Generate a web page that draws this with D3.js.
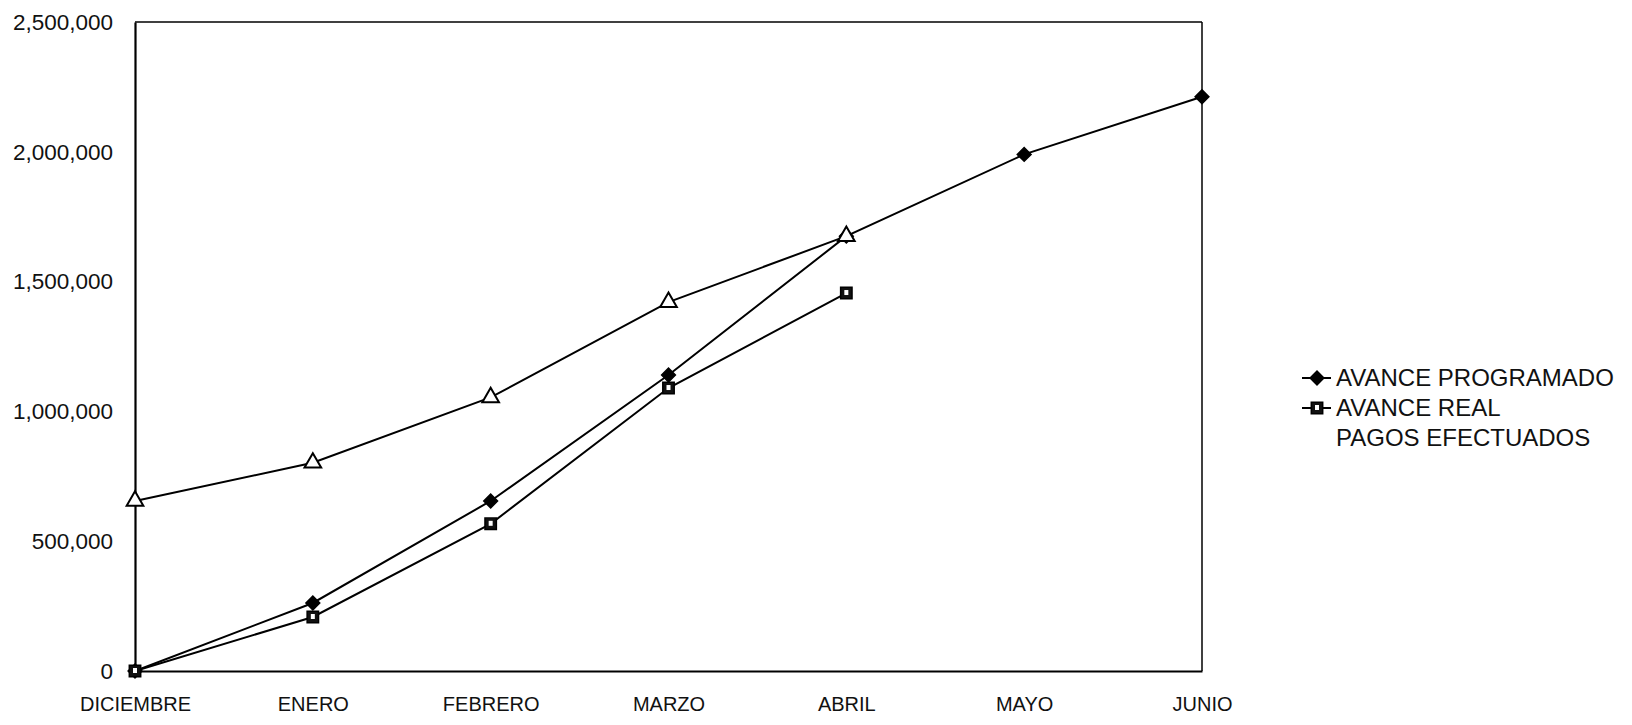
<!DOCTYPE html>
<html>
<head>
<meta charset="utf-8">
<script src="https://cdn.jsdelivr.net/npm/d3@7"></script>
<style>
  body { margin: 0; background: #fff; }
  text { font-family: "Liberation Sans", Arial, sans-serif; fill: #111; }
</style>
</head>
<body>
<svg id="chart" width="1632" height="725"></svg>
<script>
// data
const months = ['DICIEMBRE', 'ENERO', 'FEBRERO', 'MARZO', 'ABRIL', 'MAYO', 'JUNIO']
const programado = [0, 262000, 655000, 1140000, 1675000, 1990000, 2212000]
const real = [0, 208000, 567000, 1090000, 1456000]
const pagos = [655000, 802000, 1054000, 1421000, 1675000]
const yTicks = [0, 500000, 1000000, 1500000, 2000000, 2500000]
const legendLabels = ['AVANCE PROGRAMADO', 'AVANCE REAL', 'PAGOS EFECTUADOS']

const svg = d3.select('#chart')

var x = d3.scalePoint().domain(months).range([135, 1202])
var y = d3.scaleLinear().domain([0, 2500000]).range([671, 22])

// plot frame
svg.append('line').attr('x1', x.range()[0]).attr('x2', x.range()[1])
   .attr('y1', y(2500000)).attr('y2', y(2500000))
   .attr('stroke', '#000').attr('stroke-width', 1.5)
svg.append('line').attr('x1', x.range()[1]).attr('x2', x.range()[1])
   .attr('y1', y(2500000)).attr('y2', y(0))
   .attr('stroke', '#000').attr('stroke-width', 1.5)

const yAxis = d3.axisLeft(y).tickValues(yTicks).tickFormat(d3.format(',')).tickSize(0).tickPadding(22)
svg.append('g').attr('transform', `translate(${x.range()[0]},0)`).call(yAxis)
   .call(g => g.select('.domain').attr('stroke', '#000').attr('stroke-width', 2.2))
   .call(g => g.selectAll('text').attr('font-size', 22.5).attr('fill', '#111')
     .attr('font-family', '"Liberation Sans", Arial, sans-serif'))

const xAxis = d3.axisBottom(x).tickSize(0).tickPadding(26)
svg.append('g').attr('transform', `translate(0,${y(0)})`).call(xAxis)
   .call(g => g.select('.domain').attr('stroke', '#000').attr('stroke-width', 2.2))
   .call(g => g.selectAll('text').attr('font-size', 20).attr('fill', '#111')
     .attr('font-family', '"Liberation Sans", Arial, sans-serif'))

var line = d3.line().x((d, i) => x(months[i])).y(d => y(d))

function marker(g, m) {
  g.append('path').attr('transform', m.rot)
   .attr('d', d3.symbol().type(m.type).size(m.size))
   .attr('fill', m.fill).attr('stroke', '#000').attr('stroke-width', m.sw)
  if (m.dot) g.append('rect').attr('x', -2).attr('y', -3).attr('width', 4).attr('height', 5).attr('fill', '#fff')
}

function drawSeries(values, m) {
  svg.append('path').datum(values).attr('d', line)
     .attr('fill', 'none').attr('stroke', '#000').attr('stroke-width', 2)
  svg.selectAll(null).data(values).enter().append('g')
     .attr('transform', (d, i) => `translate(${x(months[i])},${y(d)})`)
     .each(function () { marker(d3.select(this), m) })
}

const diamond = { type: d3.symbolSquare, size: 95, rot: 'rotate(45)', fill: '#000', sw: 1.5 }
const square = { type: d3.symbolSquare, size: 130, rot: '', fill: '#111', sw: 1.5, dot: true }
const triangle = { type: d3.symbolTriangle, size: 120, rot: '', fill: '#fff', sw: 2 }

drawSeries(programado, diamond)
drawSeries(real, square)
drawSeries(pagos, triangle)

// legend
const legend = svg.append('g')
const rows = [378, 408, 438]
const markers = [diamond, square, null]
legendLabels.forEach(function (label, i) {
  if (markers[i]) {
    legend.append('line').attr('x1', 1302).attr('x2', 1331).attr('y1', rows[i]).attr('y2', rows[i])
          .attr('stroke', '#000').attr('stroke-width', 2)
          .attr('stroke-dasharray', i == 1 ? '9,5,15,5,9' : null)
    marker(legend.append('g').attr('transform', `translate(1317,${rows[i]})`), markers[i])
  }
  legend.append('text').attr('x', 1336).attr('y', rows[i]).attr('dy', '0.35em')
        .attr('font-size', 24).text(label)
})
</script>
</body>
</html>
